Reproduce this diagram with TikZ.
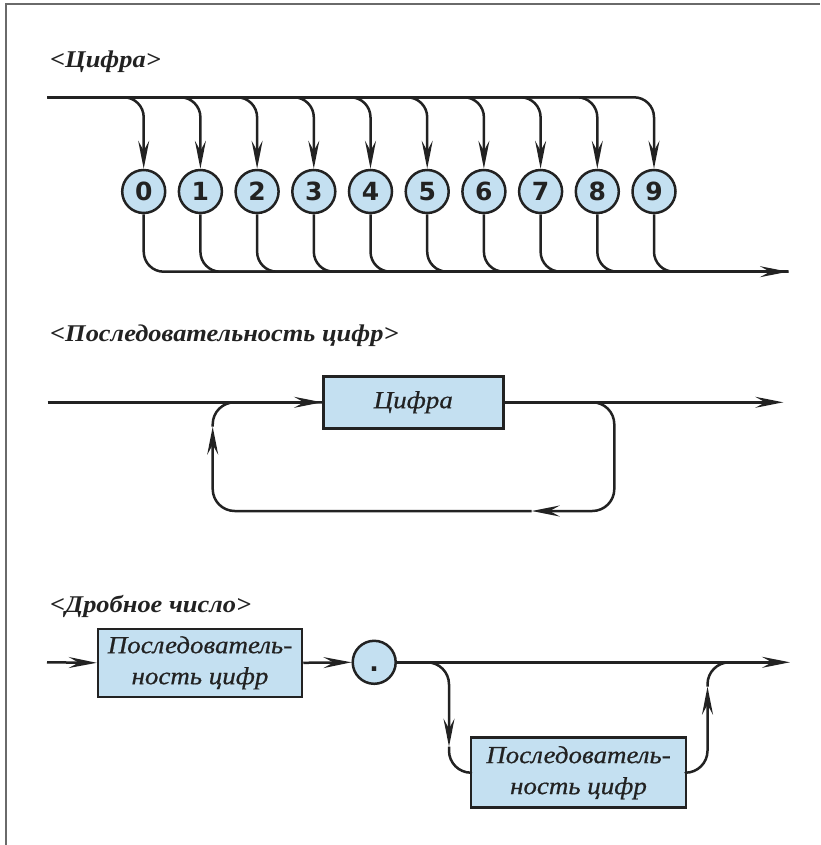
\documentclass[tikz,border=0pt]{standalone}
\usepackage{fontspec}
\setmainfont{Liberation Serif}
\newfontfamily\digitfont{DejaVu Sans}
\newfontfamily\titlefont[FakeStretch=1.1]{Liberation Serif}
\newfontfamily\boxfont[FakeStretch=1.1,FakeBold=0.6]{Liberation Serif}
\usetikzlibrary{arrows.meta}
\definecolor{boxfill}{HTML}{C4E0F1}
\definecolor{ink}{HTML}{222222}
\definecolor{framegray}{HTML}{6A6A6A}
\tikzset{
  wire/.style={draw=ink, line width=2.5pt, line join=round},
  arr/.style={wire, -{Stealth[length=28pt,width=11pt,inset=10pt]}},
  digit/.style={circle, draw=ink, fill=boxfill, line width=2.5pt, minimum size=43pt,
    inner sep=0pt, font=\digitfont\bfseries\fontsize{25}{25}\selectfont, text=ink},
  termbox/.style={rectangle, draw=ink, fill=boxfill, line width=2.5pt, inner sep=0pt,
    align=center, text=ink, font=\boxfont\itshape\fontsize{24.5}{31}\selectfont},
  title/.style={anchor=base west, inner sep=0pt, text=ink,
    font=\titlefont\bfseries\itshape\fontsize{24}{26}\selectfont},
}
\begin{document}
\begin{tikzpicture}[x=1pt, y=-1pt]
\useasboundingbox (0,0) rectangle (820,845);
% page frame
\draw[framegray, line width=2pt] (5.5,845) -- (5.5,4.5) -- (820,4.5);

% ---------- <Цифра> ----------
\node[title] (t1) at (50,68) {<Цифра>};
\coordinate (s1) at (47.7,97.3);
\coordinate (e1) at (788,271.7);
\foreach \d in {0,...,9} {
  \node[digit] (d\d) at ({143.7+56.7*\d},191.5) {\d};
  \draw[arr, rounded corners=20pt] (s1) -| (d\d.north);
}
\draw[arr, rounded corners=20pt] (d0.south) |- (e1);
\foreach \d in {1,...,9} {
  \draw[wire, rounded corners=20pt] (d\d.south) |- (e1);
}

% ---------- <Последовательность цифр> ----------
\node[title] (t2) at (50,341) {<Последовательность цифр>};
\coordinate (s2) at (47.7,402.3);
\coordinate (e2) at (783.3,402.3);
\node[termbox, minimum width=180pt, minimum height=52pt] (c) at (413.3,402.3) {Цифра};
\coordinate (r2) at (614.3,511);
\coordinate (m2) at (531.7,511);
\coordinate (l2) at (212.7,426.7);
\draw[arr] (s2) -- (c.west);
\draw[arr] (c.east) -- (e2);
\draw[arr, rounded corners=22pt] (c.east) -| (r2) -- (m2);
\draw[arr, rounded corners=22pt] (m2) -| (l2);
\draw[wire, rounded corners=22pt] (l2) |- (c.west);

% ---------- <Дробное число> ----------
\node[title] (t3) at (50,612) {<Дробное число>};
\coordinate (s3) at (47,662.3);
\coordinate (e3) at (790,662.3);
\coordinate (j3) at (740,662.3);
\node[termbox, minimum width=204pt, minimum height=68pt] (b1) at (200,662.8)
  {Последователь-\\ность цифр};
\node[digit] (dot) at (374.2,662.3) {\vphantom{0}.};
\node[termbox, minimum width=215pt, minimum height=70pt] (b2) at (578.5,772.7)
  {Последователь-\\ность цифр};
\coordinate (dn) at (449,746.7);
\coordinate (up) at (707.5,686.7);
\draw[arr] (s3) -- (b1.west);
\draw[arr] (b1.east) -- (dot.west);
\draw[arr] (dot.east) -- (e3);
\draw[arr, rounded corners=22pt] (dot.east) -| (dn);
\draw[wire, rounded corners=22pt] (dn) |- (b2.west);
\draw[arr, rounded corners=22pt] (b2.east) -| (up);
\draw[wire, rounded corners=22pt] (up) |- (j3);
\end{tikzpicture}
\end{document}
